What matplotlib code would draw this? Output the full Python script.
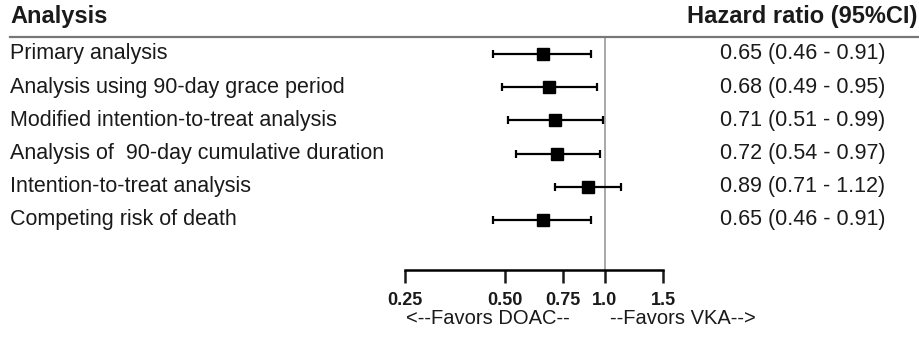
import numpy as np
import matplotlib.pyplot as plt
from matplotlib.lines import Line2D
from matplotlib.transforms import blended_transform_factory
from matplotlib.ticker import FixedLocator, NullLocator

plt.rcParams['font.family'] = ['Liberation Sans', 'DejaVu Sans']

analyses = [
    "Primary analysis",
    "Analysis using 90-day grace period",
    "Modified intention-to-treat analysis",
    "Analysis of  90-day cumulative duration",
    "Intention-to-treat analysis",
    "Competing risk of death",
]
hr = np.array([0.65, 0.68, 0.71, 0.72, 0.89, 0.65])
lo = np.array([0.46, 0.49, 0.51, 0.54, 0.71, 0.46])
hi = np.array([0.91, 0.95, 0.99, 0.97, 1.12, 0.91])
tick_vals = [0.25, 0.50, 0.75, 1.0, 1.5]
tick_labels = ["0.25", "0.50", "0.75", "1.0", "1.5"]

W, H = 919, 338
fig = plt.figure(figsize=(W / 100, H / 100), dpi=100)

# forest axis placed in pixel terms: x 405..663, y 38..270 (from top)
ax = fig.add_axes([405 / W, 1 - 270 / H, (663 - 405) / W, (270 - 38) / H])
ax.set_xscale('log')
ax.set_xlim(0.25, 1.5)
rows = np.arange(len(analyses))
step = 33.2
ax.set_ylim(5 + 50 / step, -16 / step)

ax.axvline(1.0, color='#9a9a9a', lw=1.2, zorder=1)
ax.errorbar(hr, rows, xerr=[hr - lo, hi - hr], fmt='s', color='black',
            ms=8.3, lw=1.6, capsize=2.8, capthick=1.6, zorder=3)

for s in ['top', 'right', 'left']:
    ax.spines[s].set_visible(False)
ax.spines['bottom'].set_linewidth(1.8)
ax.yaxis.set_major_locator(NullLocator())
ax.xaxis.set_major_locator(FixedLocator(tick_vals))
ax.xaxis.set_minor_locator(NullLocator())
ax.set_xticklabels(tick_labels, fontsize=13, fontweight='bold')
ax.tick_params(axis='x', direction='out', length=9.5, width=1.8, pad=6, colors='#1a1a1a')
ax.patch.set_alpha(0)

# row labels and HR texts share the y data coords of the forest axis
tr = blended_transform_factory(fig.transFigure, ax.transData)
for i, name in enumerate(analyses):
    fig.text(10 / W, i, name, transform=tr, fontsize=15.5, va='center', ha='left', color='#1a1a1a')
    fig.text(720 / W, i, f"{hr[i]:.2f} ({lo[i]:.2f} - {hi[i]:.2f})", transform=tr,
             fontsize=15.5, va='center', ha='left', color='#1a1a1a')

fig.text(10 / W, 1 - 17 / H, "Analysis", fontsize=17, fontweight='bold', va='center', ha='left', color='#1a1a1a')
fig.text(917 / W, 1 - 17 / H, "Hazard ratio (95%CI)", fontsize=17, fontweight='bold',
         va='center', ha='right', color='#1a1a1a')
fig.add_artist(Line2D([10 / W, 1], [1 - 37 / H, 1 - 37 / H], color='#777777', lw=1.6))

fig.text(488 / W, 1 - 318 / H, "<--Favors DOAC--", fontsize=14.5, va='center', ha='center', color='#1a1a1a')
fig.text(610 / W, 1 - 318 / H, "--Favors VKA-->", fontsize=14.5, va='center', ha='left', color='#1a1a1a')

fig.savefig("out.png", dpi=100)
